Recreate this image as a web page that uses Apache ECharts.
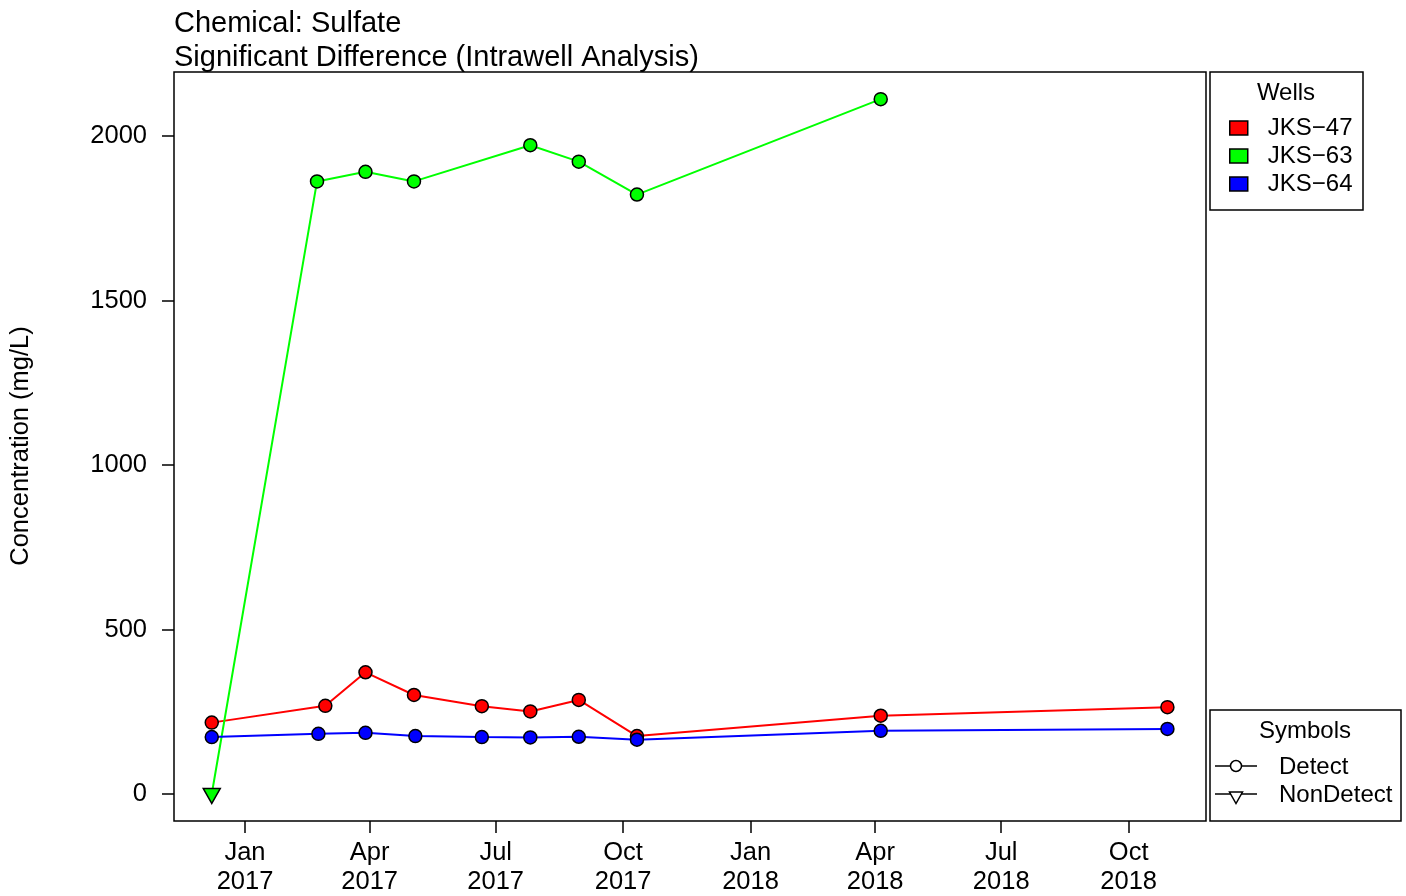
<!DOCTYPE html>
<html>
<head>
<meta charset="utf-8">
<script src="https://cdn.jsdelivr.net/npm/echarts@6/dist/echarts.min.js"></script>
<style>
html,body{margin:0;padding:0;background:#fff;}
#chart{width:1406px;height:896px;}
</style>
</head>
<body>
<div id="chart"></div>
<script>
// ---- data ----
const wellNames = ['JKS\u221247', 'JKS\u221263', 'JKS\u221264'];
const wellColors = ['#FF0000', '#00FF00', '#0000FF'];

const dates47 = ['2016-12-08','2017-02-28','2017-03-29','2017-05-03','2017-06-21','2017-07-26','2017-08-30','2017-10-11','2018-04-05','2018-10-29'];
const values47 = [217, 268, 370, 301, 267, 251, 286, 176, 238, 264];
const nonDetect47 = [false,false,false,false,false,false,false,false,false,false];

const dates63 = ['2016-12-08','2017-02-22','2017-03-29','2017-05-03','2017-07-26','2017-08-30','2017-10-11','2018-04-05'];
const values63 = [0, 1862, 1891, 1862, 1972, 1922, 1822, 2112];
const nonDetect63 = [true,false,false,false,false,false,false,false];

const dates64 = ['2016-12-08','2017-02-23','2017-03-29','2017-05-04','2017-06-21','2017-07-26','2017-08-30','2017-10-11','2018-04-05','2018-10-29'];
const values64 = [173, 183, 186, 176, 173, 172, 174, 165, 192, 198];
const nonDetect64 = [false,false,false,false,false,false,false,false,false,false];

const xTickDates = ['2017-01-01','2017-04-01','2017-07-01','2017-10-01','2018-01-01','2018-04-01','2018-07-01','2018-10-01'];
const monthNames = ['Jan','Feb','Mar','Apr','May','Jun','Jul','Aug','Sep','Oct','Nov','Dec'];
const yTicks = [0, 500, 1000, 1500, 2000];

const titleLines = ['Chemical: Sulfate', 'Significant Difference (Intrawell Analysis)'];
const yAxisTitle = 'Concentration (mg/L)';
const symbolLegend = ['Detect', 'NonDetect'];

// ---- build ----
const DAY = 86400000;
const T0 = Date.parse('2017-01-01');
const xMin = T0 - 51.26 * DAY;
const xMax = T0 + 693.86 * DAY;
const FONT = '"Liberation Sans", Arial, Helvetica, sans-serif';

function buildData(dates, values, nd) {
  return dates.map((d, i) => {
    const item = { value: [Date.parse(d), values[i]] };
    if (nd[i]) {
      item.symbol = 'triangle';
      item.symbolRotate = 180;
      item.symbolSize = [17, 15];
      item.symbolOffset = [0, 2];
    }
    return item;
  });
}

const seriesDefs = [
  [dates47, values47, nonDetect47],
  [dates63, values63, nonDetect63],
  [dates64, values64, nonDetect64]
];

const series = seriesDefs.map((s, i) => ({
  name: wellNames[i],
  type: 'line',
  data: buildData(s[0], s[1], s[2]),
  symbol: 'circle',
  symbolSize: 13,
  showAllSymbol: true,
  lineStyle: { color: wellColors[i], width: 2 },
  itemStyle: { color: wellColors[i], borderColor: '#000', borderWidth: 1.5 },
  emphasis: { disabled: true },
  z: 2 + i
}));

const xTickValues = xTickDates.map(d => Date.parse(d));

const chart = echarts.init(document.getElementById('chart'), null, { renderer: 'canvas' });
chart.setOption({
  animation: false,
  backgroundColor: '#fff',
  grid: {
    left: 174, top: 72, width: 1032, height: 749,
    show: true, borderColor: '#000', borderWidth: 1.5, backgroundColor: 'transparent'
  },
  xAxis: {
    type: 'value',
    position: 'bottom',
    min: xMin, max: xMax,
    axisLine: { show: false, onZero: false },
    splitLine: { show: false },
    axisTick: { show: true, length: 12, customValues: xTickValues, lineStyle: { color: '#000', width: 1.5 } },
    axisLabel: {
      customValues: xTickValues,
      margin: 17,
      fontSize: 25.5, lineHeight: 29, color: '#000', fontFamily: FONT,
      formatter: v => { const d = new Date(v); return monthNames[d.getUTCMonth()] + '\n' + d.getUTCFullYear(); }
    }
  },
  yAxis: {
    type: 'value',
    position: 'left',
    min: -82, max: 2194.5,
    axisLine: { show: false, onZero: false },
    splitLine: { show: false },
    axisTick: { show: true, length: 12, customValues: yTicks, lineStyle: { color: '#000', width: 1.5 } },
    axisLabel: { customValues: yTicks, margin: 27, fontSize: 25.5, color: '#000', fontFamily: FONT,
      formatter: v => String(v) }
  },
  legend: {
    data: wellNames,
    orient: 'vertical',
    left: 1224, top: 111,
    icon: 'rect',
    itemWidth: 18, itemHeight: 14, itemGap: 4,
    selectedMode: false,
    itemStyle: { borderColor: '#000', borderWidth: 1.5 },
    textStyle: { fontSize: 24, lineHeight: 24, color: '#000', fontFamily: FONT, padding: [0, 0, 0, 15] }
  },
  series: series,
  graphic: [
    { type: 'text', left: 174, top: 24 - 14.5, style: { text: titleLines[0], fontSize: 29, fontFamily: FONT, fill: '#000' } },
    { type: 'text', left: 174, top: 58 - 14.5, style: { text: titleLines[1], fontSize: 29, fontFamily: FONT, fill: '#000' } },
    { type: 'text', x: 21, y: 446, rotation: Math.PI / 2,
      style: { text: yAxisTitle, fontSize: 25.5, fontFamily: FONT, fill: '#000', align: 'center', verticalAlign: 'middle' } },
    // Wells legend box
    { type: 'rect', shape: { x: 1210, y: 72, width: 153, height: 138 }, style: { fill: 'none', stroke: '#000', lineWidth: 1.5 }, z: 10 },
    { type: 'text', x: 1286, y: 93, style: { text: 'Wells', fontSize: 24, fontFamily: FONT, fill: '#000', align: 'center', verticalAlign: 'middle' }, z: 10 },
    // Symbols legend box
    { type: 'rect', shape: { x: 1210, y: 710, width: 191, height: 111 }, style: { fill: '#fff', stroke: '#000', lineWidth: 1.5 }, z: 10 },
    { type: 'text', x: 1305, y: 731, style: { text: 'Symbols', fontSize: 24, fontFamily: FONT, fill: '#000', align: 'center', verticalAlign: 'middle' }, z: 11 },
    { type: 'line', shape: { x1: 1215, y1: 766, x2: 1257, y2: 766 }, style: { stroke: '#000', lineWidth: 1.5 }, z: 11 },
    { type: 'circle', shape: { cx: 1236, cy: 766, r: 5.5 }, style: { fill: '#fff', stroke: '#000', lineWidth: 1.5 }, z: 12 },
    { type: 'text', x: 1279, y: 767, style: { text: symbolLegend[0], fontSize: 24, fontFamily: FONT, fill: '#000', align: 'left', verticalAlign: 'middle' }, z: 11 },
    { type: 'line', shape: { x1: 1215, y1: 794, x2: 1257, y2: 794 }, style: { stroke: '#000', lineWidth: 1.5 }, z: 11 },
    { type: 'polygon', shape: { points: [[1229.5, 792], [1242.5, 792], [1236, 803.5]] }, style: { fill: '#fff', stroke: '#000', lineWidth: 1.5 }, z: 12 },
    { type: 'text', x: 1279, y: 795, style: { text: symbolLegend[1], fontSize: 24, fontFamily: FONT, fill: '#000', align: 'left', verticalAlign: 'middle' }, z: 11 }
  ]
});
</script>
</body>
</html>
